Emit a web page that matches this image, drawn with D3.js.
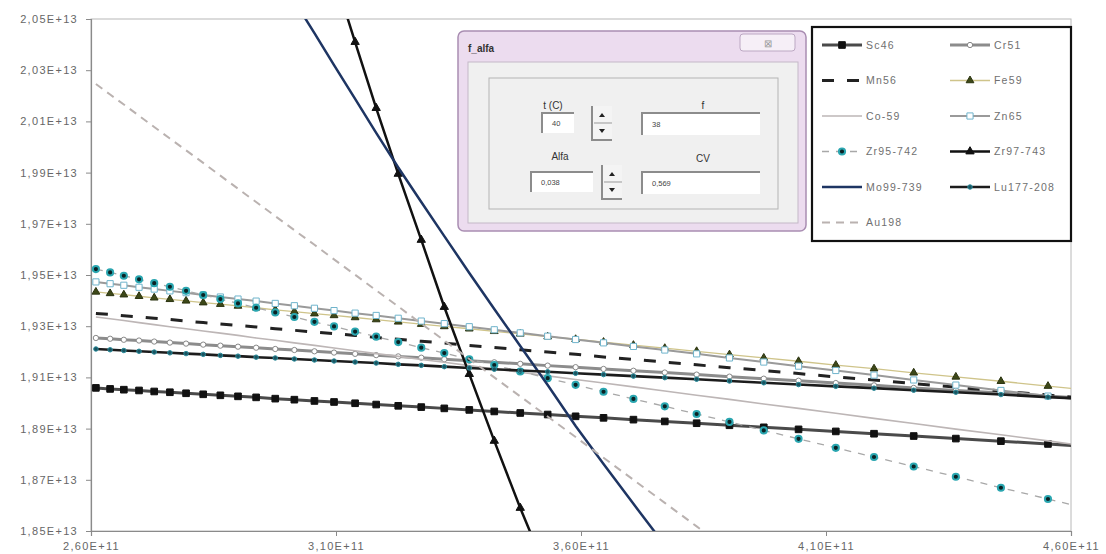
<!DOCTYPE html>
<html>
<head>
<meta charset="utf-8">
<script src="https://cdn.jsdelivr.net/npm/d3@7"></script>
<style>
body { margin: 0; background: #fff; }
svg { font-family: "Liberation Sans", Arial, sans-serif; }
</style>
</head>
<body>
<div id="plot"></div>
<script>
// x values in units of 1E+11, y values in units of 1E+13
var xFlux = [2.610, 2.639, 2.667, 2.698, 2.729, 2.761, 2.794, 2.829, 2.864, 2.900, 2.937, 2.976, 3.015,
  3.056, 3.096, 3.139, 3.182, 3.227, 3.274, 3.321, 3.372, 3.423, 3.476, 3.532, 3.589, 3.646, 3.707,
  3.771, 3.836, 3.903, 3.973, 4.044, 4.120, 4.198, 4.279, 4.365, 4.457, 4.553, 4.655];

var sc46 = [1.9059, 1.9055, 1.9052, 1.9049, 1.9045, 1.9042, 1.9038, 1.9034, 1.9030, 1.9026, 1.9022, 1.9017, 1.9013,
  1.9008, 1.9004, 1.8999, 1.8994, 1.8989, 1.8984, 1.8979, 1.8973, 1.8967, 1.8961, 1.8955, 1.8948, 1.8942, 1.8935,
  1.8928, 1.8921, 1.8913, 1.8905, 1.8897, 1.8889, 1.8880, 1.8871, 1.8861, 1.8851, 1.8840, 1.8828];
var cr51 = [1.9254, 1.9251, 1.9247, 1.9244, 1.9240, 1.9236, 1.9232, 1.9228, 1.9224, 1.9220, 1.9216, 1.9211, 1.9207,
  1.9202, 1.9197, 1.9192, 1.9187, 1.9182, 1.9177, 1.9171, 1.9165, 1.9159, 1.9153, 1.9146, 1.9140, 1.9133, 1.9126,
  1.9119, 1.9111, 1.9103, 1.9095, 1.9087, 1.9078, 1.9069, 1.9059, 1.9049, 1.9039, 1.9027, 1.9015];
var mn56 = [1.9350, 1.9346, 1.9341, 1.9336, 1.9331, 1.9326, 1.9320, 1.9314, 1.9309, 1.9303, 1.9297, 1.9290, 1.9284,
  1.9277, 1.9271, 1.9264, 1.9256, 1.9249, 1.9241, 1.9234, 1.9225, 1.9217, 1.9208, 1.9199, 1.9190, 1.9180, 1.9170,
  1.9160, 1.9149, 1.9138, 1.9127, 1.9115, 1.9102, 1.9090, 1.9076, 1.9062, 1.9047, 1.9031, 1.9014];
var fe59 = [1.9434, 1.9428, 1.9423, 1.9417, 1.9411, 1.9405, 1.9399, 1.9392, 1.9386, 1.9379, 1.9372, 1.9364, 1.9357,
  1.9349, 1.9342, 1.9334, 1.9326, 1.9317, 1.9308, 1.9299, 1.9290, 1.9280, 1.9270, 1.9259, 1.9249, 1.9238, 1.9226,
  1.9214, 1.9202, 1.9189, 1.9176, 1.9163, 1.9148, 1.9134, 1.9118, 1.9102, 1.9085, 1.9066, 1.9047];
var co59 = [1.9336, 1.9329, 1.9322, 1.9314, 1.9306, 1.9298, 1.9290, 1.9281, 1.9273, 1.9264, 1.9254, 1.9245, 1.9235,
  1.9225, 1.9215, 1.9204, 1.9193, 1.9182, 1.9170, 1.9159, 1.9146, 1.9133, 1.9120, 1.9106, 1.9092, 1.9078, 1.9063,
  1.9047, 1.9030, 1.9014, 1.8996, 1.8979, 1.8960, 1.8940, 1.8920, 1.8898, 1.8876, 1.8852, 1.8826];
var zn65 = [1.9473, 1.9466, 1.9460, 1.9452, 1.9445, 1.9438, 1.9431, 1.9422, 1.9414, 1.9406, 1.9398, 1.9389, 1.9380,
  1.9370, 1.9361, 1.9351, 1.9342, 1.9331, 1.9320, 1.9310, 1.9298, 1.9286, 1.9274, 1.9261, 1.9248, 1.9235, 1.9221,
  1.9207, 1.9192, 1.9176, 1.9160, 1.9144, 1.9127, 1.9109, 1.9090, 1.9070, 1.9049, 1.9027, 1.9004];
var zr95 = [1.9523, 1.9510, 1.9497, 1.9483, 1.9468, 1.9454, 1.9438, 1.9422, 1.9406, 1.9389, 1.9372, 1.9354, 1.9336,
  1.9317, 1.9299, 1.9279, 1.9259, 1.9238, 1.9216, 1.9195, 1.9171, 1.9148, 1.9123, 1.9097, 1.9071, 1.9044, 1.9016,
  1.8987, 1.8957, 1.8926, 1.8893, 1.8860, 1.8825, 1.8789, 1.8752, 1.8712, 1.8669, 1.8625, 1.8578];
var zr97 = [null, null, null, null, null, null, null, null, null, null, null, null, null,
  2.0930, 2.0670, 2.0410, 2.0152, 1.9895, 1.9637, 1.9375, 1.9113, 1.8852, 1.8590, 1.8332, 1.8074, null, null,
  null, null, null, null, null, null, null, null, null, null, null, null];
var mo99 = [null, null, null, null, null, null, null, null, null, null, null, null, 2.0570,
  2.0445, 2.0320, 2.0188, 2.0055, 1.9920, 1.9785, 1.9652, 1.9508, 1.9367, 1.9223, 1.9070, 1.8910, 1.8762, 1.8606,
  1.8445, null, null, null, null, null, null, null, null, null, null, null];
var lu177 = [1.9211, 1.9208, 1.9205, 1.9202, 1.9199, 1.9196, 1.9193, 1.9190, 1.9186, 1.9183, 1.9179, 1.9176, 1.9172,
  1.9168, 1.9164, 1.9160, 1.9156, 1.9151, 1.9147, 1.9142, 1.9137, 1.9132, 1.9127, 1.9122, 1.9116, 1.9111, 1.9105,
  1.9099, 1.9093, 1.9086, 1.9079, 1.9072, 1.9065, 1.9058, 1.9050, 1.9042, 1.9033, 1.9023, 1.9014];
var au198 = [2.0246, 2.0205, 2.0166, 2.0122, 2.0078, 2.0033, 1.9987, 1.9938, 1.9888, 1.9837, 1.9785, 1.9730, 1.9675,
  1.9618, 1.9561, 1.9501, 1.9440, 1.9377, 1.9310, 1.9244, 1.9172, 1.9100, 1.9026, 1.8947, 1.8867, 1.8786, 1.8700,
  1.8610, 1.8518, 1.8424, null, null, null, null, null, null, null, null, null];

var yTicks = [1.85, 1.87, 1.89, 1.91, 1.93, 1.95, 1.97, 1.99, 2.01, 2.03, 2.05];
var xTicks = [2.6, 3.1, 3.6, 4.1, 4.6];

// dialog box contents
var dialogTitle = "f_alfa";
var dialogFields = [
  {label: "t (C)", value: "40"},
  {label: "f", value: "38"},
  {label: "Alfa", value: "0,038"},
  {label: "CV", value: "0,569"}
];

var svg = d3.select("div#plot")
  .append("svg")
  .attr("width", 1106)
  .attr("height", 554);

var margin = {top: 19, right: 35, bottom: 23, left: 91};
var width = 1106 - margin.left - margin.right;
var height = 554 - margin.top - margin.bottom;
var g = svg.append("g").attr("transform", `translate(${margin.left}, ${margin.top})`);

var xScale = d3.scaleLinear().domain([2.6, 4.6]).range([0, width]);
var yScale = d3.scaleLinear().domain([1.85, 2.05]).range([height, 0]);

var fmt = (v, e) => d3.format(".2f")(v).replace(".", ",") + "E+" + e;

// plot area frame
g.append("rect")
  .attr("width", width).attr("height", height)
  .attr("fill", "#fff").attr("stroke", "#b8b8b8");

var yAxis = g.append("g")
  .call(d3.axisLeft(yScale).tickValues(yTicks).tickSize(5).tickPadding(8).tickFormat(d => fmt(d, 13)));
var xAxis = g.append("g")
  .attr("transform", `translate(0, ${height})`)
  .call(d3.axisBottom(xScale).tickValues(xTicks).tickSize(5).tickPadding(6).tickFormat(d => fmt(d, 11)));

[xAxis, yAxis].forEach(function(a) {
  a.select(".domain").attr("stroke", "#8a8a8a").attr("stroke-width", 1.2);
  a.selectAll(".tick line").attr("stroke", "#8a8a8a");
  a.selectAll(".tick text")
    .attr("fill", "#666")
    .style("font-size", "11px")
    .style("letter-spacing", "1.3px");
});

svg.append("clipPath").attr("id", "clip")
  .append("rect").attr("width", width).attr("height", height);

var series = [
  {name: "Sc46", values: sc46, stroke: "#4a4a4a", width: 3, marker: "square", size: 44, fill: "#111", mstroke: "#111"},
  {name: "Cr51", values: cr51, stroke: "#8c8c8c", width: 3, marker: "circle", size: 22, fill: "#fff", mstroke: "#888"},
  {name: "Mn56", values: mn56, stroke: "#222", width: 3, dash: "12,13"},
  {name: "Fe59", values: fe59, stroke: "#cfc48a", width: 1.3, marker: "triangle", size: 26, fill: "#3d4818", mstroke: "#2b3310"},
  {name: "Co-59", values: co59, stroke: "#bdb6b6", width: 1.6},
  {name: "Zn65", values: zn65, stroke: "#9a9a9a", width: 2, marker: "square", size: 38, fill: "#fff", mstroke: "#6fb4cc"},
  {name: "Zr95-742", values: zr95, stroke: "#a8a8a8", width: 1.3, dash: "7,7", marker: "circle", size: 30, fill: "#0b2224", mstroke: "#2aa6b0", mwidth: 2},
  {name: "Zr97-743", values: zr97, stroke: "#111", width: 2.5, marker: "triangle", size: 30, fill: "#111", mstroke: "#111"},
  {name: "Mo99-739", values: mo99, stroke: "#1e3563", width: 2.5},
  {name: "Lu177-208", values: lu177, stroke: "#1c1c1c", width: 2.6, marker: "circle", size: 16, fill: "#1b5461", mstroke: "#2a8d9c"},
  {name: "Au198", values: au198, stroke: "#bab2b0", width: 2, dash: "8,6"}
];

var symbols = {square: d3.symbolSquare, circle: d3.symbolCircle, triangle: d3.symbolTriangle};

var plot = g.append("g").attr("clip-path", "url(#clip)");

var line = d3.line()
  .defined(d => d.y != null)
  .x(d => xScale(d.x))
  .y(d => yScale(d.y));

series.forEach(function(s) {
  var pts = xFlux.map((x, i) => ({x: x, y: s.values[i]}));
  plot.append("path")
    .datum(pts)
    .attr("fill", "none")
    .attr("stroke", s.stroke)
    .attr("stroke-width", s.width)
    .attr("stroke-dasharray", s.dash || null)
    .attr("d", line);
  if (s.marker) {
    plot.append("g").selectAll("path")
      .data(pts.filter(d => d.y != null))
      .join("path")
      .attr("transform", d => `translate(${xScale(d.x)}, ${yScale(d.y)})`)
      .attr("d", d3.symbol().type(symbols[s.marker]).size(s.size))
      .attr("fill", s.fill)
      .attr("stroke", s.mstroke)
      .attr("stroke-width", s.mwidth || 1);
  }
});

// legend
var legend = svg.append("g").attr("transform", "translate(812, 27)");
legend.append("rect")
  .attr("width", 259).attr("height", 214)
  .attr("fill", "#fff").attr("stroke", "#111").attr("stroke-width", 2.2);

series.forEach(function(s, i) {
  var col = i % 2, row = Math.floor(i / 2);
  var item = legend.append("g")
    .attr("transform", `translate(${10 + col * 128}, ${18 + row * 35.5})`);
  item.append("line")
    .attr("x1", 0).attr("x2", 40)
    .attr("stroke", s.stroke)
    .attr("stroke-width", s.width)
    .attr("stroke-dasharray", s.dash || null);
  if (s.marker) {
    item.append("path")
      .attr("transform", "translate(20, 0)")
      .attr("d", d3.symbol().type(symbols[s.marker]).size(s.size))
      .attr("fill", s.fill)
      .attr("stroke", s.mstroke)
      .attr("stroke-width", s.mwidth || 1);
  }
  item.append("text")
    .attr("x", 44).attr("dy", "0.35em")
    .attr("fill", "#707070")
    .style("font-size", "10.5px")
    .style("letter-spacing", "1.2px")
    .text(s.name);
});

// the f_alfa dialog window lying on top of the chart
var dlg = svg.append("g").attr("transform", "translate(458, 31)");
dlg.append("rect")
  .attr("width", 348).attr("height", 200).attr("rx", 6)
  .attr("fill", "#ecdcef").attr("stroke", "#a98db2").attr("stroke-width", 1.5);
dlg.append("text")
  .attr("x", 10).attr("y", 21)
  .attr("fill", "#333").style("font-size", "10px").style("font-weight", "bold")
  .text(dialogTitle);
dlg.append("rect")
  .attr("x", 282).attr("y", 3).attr("width", 55).attr("height", 17).attr("rx", 3)
  .attr("fill", "#f6eff7").attr("stroke", "#bca8c3");
dlg.append("text")
  .attr("x", 309.5).attr("y", 15.5).attr("text-anchor", "middle")
  .attr("fill", "#9a9a9a").style("font-size", "10px")
  .text("⊠");
dlg.append("rect")
  .attr("x", 10).attr("y", 31).attr("width", 330).attr("height", 161)
  .attr("fill", "#f0f0f0").attr("stroke", "#c4b8c8");
dlg.append("rect")
  .attr("x", 31).attr("y", 47).attr("width", 289).attr("height", 131)
  .attr("fill", "none").attr("stroke", "#b4b4b4");

var boxes = [
  {lx: 95, ly: 78, bx: 84, by: 82, bw: 32, bh: 20},
  {lx: 245, ly: 78, bx: 184, by: 82, bw: 118, bh: 22},
  {lx: 102, ly: 129, bx: 73, by: 141, bw: 62, bh: 20},
  {lx: 245, ly: 131, bx: 184, by: 141, bw: 118, bh: 22}
];
dialogFields.forEach(function(f, i) {
  var b = boxes[i];
  dlg.append("text")
    .attr("x", b.lx).attr("y", b.ly).attr("text-anchor", "middle")
    .attr("fill", "#333").style("font-size", "10px")
    .text(f.label);
  dlg.append("rect")
    .attr("x", b.bx).attr("y", b.by).attr("width", b.bw).attr("height", b.bh)
    .attr("fill", "#fff");
  dlg.append("path")
    .attr("d", `M${b.bx},${b.by + b.bh} V${b.by} H${b.bx + b.bw}`)
    .attr("fill", "none").attr("stroke", "#8c8c8c").attr("stroke-width", 2);
  dlg.append("text")
    .attr("x", b.bx + 10).attr("y", b.by + b.bh / 2 + 3)
    .attr("fill", "#444").style("font-size", "7.5px")
    .text(f.value);
});

// spin buttons
[{x: 134, y: 75}, {x: 144, y: 134}].forEach(function(p) {
  var sp = dlg.append("g").attr("transform", `translate(${p.x}, ${p.y})`);
  sp.append("rect").attr("width", 20).attr("height", 34).attr("fill", "#f4f4f4");
  sp.append("path").attr("d", "M0,0 V34 H20")
    .attr("fill", "none").attr("stroke", "#8c8c8c").attr("stroke-width", 2);
  sp.append("line").attr("x1", 2).attr("x2", 20).attr("y1", 17).attr("y2", 17).attr("stroke", "#999");
  sp.append("path").attr("d", "M7,11 L13,11 L10,7 Z").attr("fill", "#222");
  sp.append("path").attr("d", "M7,23 L13,23 L10,27 Z").attr("fill", "#222");
});
</script>
</body>
</html>
